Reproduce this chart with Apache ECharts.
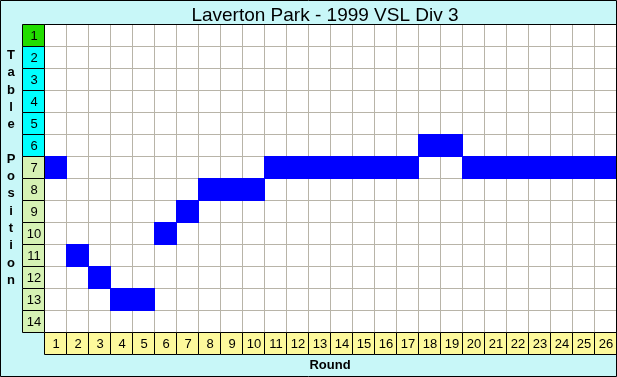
<!DOCTYPE html>
<html>
<head>
<meta charset="utf-8">
<script src="https://cdn.jsdelivr.net/npm/echarts@6/dist/echarts.min.js"></script>
<style>
html, body { margin: 0; padding: 0; }
#chart { width: 617px; height: 377px; }
</style>
</head>
<body>
<div id="chart"></div>
<script>
// chart data
var chartTitle = 'Laverton Park - 1999 VSL Div 3';
var yTitle = 'Table Position';
var xTitle = 'Round';
var rounds = ['1', '2', '3', '4', '5', '6', '7', '8', '9', '10', '11', '12', '13',
    '14', '15', '16', '17', '18', '19', '20', '21', '22', '23', '24', '25', '26'];
var positions = ['1', '2', '3', '4', '5', '6', '7', '8', '9', '10', '11', '12', '13', '14'];
// table position after each round
var ladder = [7, 11, 12, 13, 13, 10, 9, 8, 8, 8, 7, 7, 7, 7, 7, 7, 7, 6, 6, 7, 7, 7, 7, 7, 7, 7];

var FONT = '"Liberation Sans", Arial, sans-serif';

// colour of the position label cells
function positionColor(i) {
    if (i === 0) return '#22dd00';
    if (i <= 5) return '#00ffff';
    return '#d6f2b4';
}

// label cell: boxed rect with centred text
function labelCell(fillFor, texts) {
    return function (params, api) {
        var c = api.coord([api.value(0), api.value(1)]);
        var s = api.size([1, 1]);
        return {
            type: 'group',
            children: [{
                type: 'rect',
                shape: {
                    x: Math.round(c[0] - s[0] / 2) + 0.5,
                    y: Math.round(c[1] - s[1] / 2) + 0.5,
                    width: Math.round(s[0]),
                    height: Math.round(s[1])
                },
                style: { fill: fillFor(params.dataIndex), stroke: '#000', lineWidth: 1 }
            }, {
                type: 'text',
                style: {
                    text: texts[params.dataIndex],
                    x: c[0] + 1,
                    y: c[1] + 1,
                    align: 'center',
                    verticalAlign: 'middle',
                    fontSize: 13,
                    fontFamily: FONT,
                    fill: '#000'
                }
            }]
        };
    };
}

var chart = echarts.init(document.getElementById('chart'));

var hidden = { show: false };

// vertical axis title, one letter per line
var yTitleLetters = yTitle.split('').map(function (ch, i) {
    return {
        type: 'text',
        silent: true,
        style: {
            text: ch,
            x: 11,
            y: 62 + i * 17.3,
            align: 'center',
            verticalAlign: 'bottom',
            fontSize: 13,
            fontWeight: 'bold',
            fontFamily: FONT,
            fill: '#000'
        }
    };
});

var option = {
    backgroundColor: '#c8f7f8',
    animation: false,
    title: {
        text: chartTitle,
        left: 320,
        top: 1,
        textAlign: 'center',
        textStyle: { fontSize: 19, fontWeight: 'normal', color: '#000', fontFamily: FONT }
    },
    grid: [
        { left: 44, top: 24, width: 572, height: 308, show: true, backgroundColor: '#fff', borderWidth: 0 },
        { left: 22, top: 24, width: 22, height: 308 },
        { left: 44, top: 332, width: 572, height: 22 }
    ],
    xAxis: [{
        gridIndex: 0,
        type: 'category',
        position: 'top',
        data: rounds,
        axisLine: { show: true, lineStyle: { color: '#000', width: 1 } },
        axisTick: hidden,
        axisLabel: hidden,
        splitLine: { show: true, interval: 0, lineStyle: { color: '#b8b4a8', width: 1 } }
    }, {
        gridIndex: 1,
        type: 'category',
        data: [''],
        axisLine: hidden, axisTick: hidden, axisLabel: hidden
    }, {
        gridIndex: 2,
        type: 'category',
        data: rounds,
        axisLine: hidden, axisTick: hidden, axisLabel: hidden
    }],
    yAxis: [{
        gridIndex: 0,
        type: 'category',
        inverse: true,
        data: positions,
        axisLine: hidden,
        axisTick: hidden,
        axisLabel: hidden,
        splitLine: { show: true, interval: 0, lineStyle: { color: '#b8b4a8', width: 1 } }
    }, {
        gridIndex: 1,
        type: 'category',
        inverse: true,
        data: positions,
        axisLine: hidden, axisTick: hidden, axisLabel: hidden
    }, {
        gridIndex: 2,
        type: 'category',
        data: [''],
        axisLine: hidden, axisTick: hidden, axisLabel: hidden
    }],
    series: [{
        // position each round
        type: 'custom',
        xAxisIndex: 0,
        yAxisIndex: 0,
        z: 5,
        renderItem: function (params, api) {
            var c = api.coord([api.value(0), api.value(1)]);
            var s = api.size([1, 1]);
            return {
                type: 'rect',
                shape: {
                    x: Math.round(c[0] - s[0] / 2),
                    y: Math.round(c[1] - s[1] / 2),
                    width: Math.round(s[0]) + 1,
                    height: Math.round(s[1]) + 1
                },
                style: { fill: '#0000ff' }
            };
        },
        data: ladder.map(function (p, i) { return [i, p - 1]; })
    }, {
        // position label column
        type: 'custom',
        xAxisIndex: 1,
        yAxisIndex: 1,
        z: 6,
        renderItem: labelCell(positionColor, positions),
        data: positions.map(function (p, i) { return [0, i]; })
    }, {
        // round label row
        type: 'custom',
        xAxisIndex: 2,
        yAxisIndex: 2,
        z: 6,
        renderItem: labelCell(function () { return '#fdf99c'; }, rounds),
        data: rounds.map(function (r, i) { return [i, 0]; })
    }],
    graphic: yTitleLetters.concat([{
        type: 'text',
        style: {
            text: xTitle,
            x: 330,
            y: 365,
            align: 'center',
            verticalAlign: 'middle',
            fontSize: 13,
            fontWeight: 'bold',
            fontFamily: FONT,
            fill: '#000'
        }
    }, {
        type: 'rect',
        shape: { x: 0.5, y: 0.5, width: 616, height: 376 },
        style: { fill: 'none', stroke: '#000', lineWidth: 1 },
        z: 100
    }])
};

chart.setOption(option);
</script>
</body>
</html>
